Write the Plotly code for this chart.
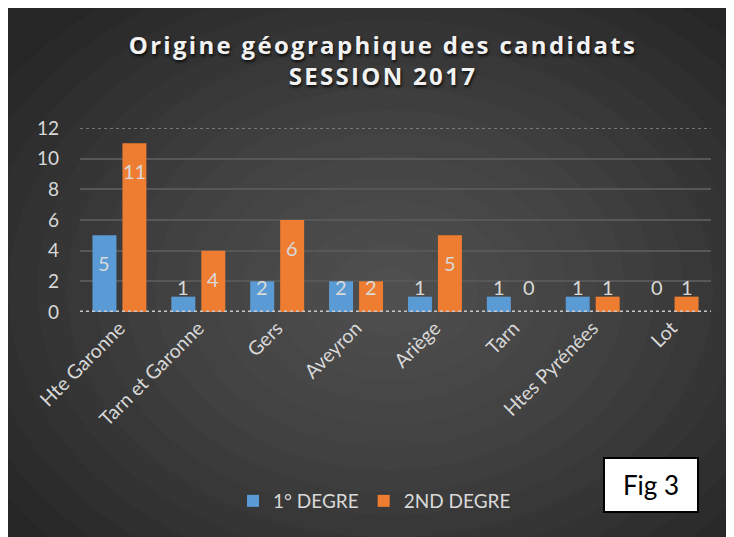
import plotly.graph_objects as go

categories = ["Hte Garonne", "Tarn et Garonne", "Gers", "Aveyron", "Ariège", "Tarn", "Htes Pyrénées", "Lot"]
degre1 = [5, 1, 2, 2, 1, 1, 1, 0]
degre2 = [11, 4, 6, 2, 5, 0, 1, 1]
series_names = ["1° DEGRE", "2ND DEGRE"]
title_lines = ["Origine géographique des candidats", "SESSION 2017"]
fig_label = "Fig 3"

BLUE = "#5b9bd5"
ORANGE = "#ee7d31"
TXT = "#d9d9d9"
FONT = "Lato"

fig = go.Figure()
fig.add_trace(go.Bar(x=categories, y=degre1, name=series_names[0], marker=dict(color=BLUE, line=dict(width=0))))
fig.add_trace(go.Bar(x=categories, y=degre2, name=series_names[1], marker=dict(color=ORANGE, line=dict(width=0))))

# page offset of the figure (body margin)
O = 8
W, H = 734 - O, 537 - O
L, R, T, B = 80 - O, 23, 128 - O, 225
pw, ph = W - L - R, H - T - B

def px2x(px):
    return (px - O - L) / pw

def py2y(py):
    return (H - B - (py - O)) / ph

shapes = []
cx, cy = 390, 290
n = 16
for i in range(n):
    f = 1 - i / n
    rx, ry = 470 * f, 360 * f
    shapes.append(dict(type="circle", xref="paper", yref="paper",
                       x0=px2x(cx - rx), x1=px2x(cx + rx), y0=py2y(cy + ry), y1=py2y(cy - ry),
                       fillcolor="rgba(255,255,255,0.017)", line=dict(width=0), layer="below"))
# top gridline (dotted) and zero line (textured)
shapes.append(dict(type="line", xref="paper", yref="y", x0=0, x1=1, y0=12, y1=12,
                   line=dict(color="#8c8c8c", width=1.5, dash="dot"), layer="below"))
shapes.append(dict(type="line", xref="paper", yref="y", x0=0, x1=1, y0=0, y1=0,
                   line=dict(color="#c8c8c8", width=3, dash="dot"), layer="above"))

annotations = []
off = 0.19
for vals, sgn in ((degre1, -1), (degre2, 1)):
    for i, v in enumerate(vals):
        ylab = max(v - 1.83, 1.63)
        annotations.append(dict(x=i + sgn * off, y=ylab, xref="x", yref="y", text=str(v),
                                showarrow=False, font=dict(family=FONT, size=20, color=TXT),
                                xanchor="center", yanchor="middle"))
annotations.append(dict(x=px2x(651), y=py2y(484.5), xref="paper", yref="paper", text=fig_label,
                        showarrow=False, font=dict(family=FONT, size=26, color="black"),
                        bgcolor="white", bordercolor="black", borderwidth=2,
                        width=90, height=50, xanchor="center", yanchor="middle"))

title_text = "<br>".join('<span style="letter-spacing:2.3px">%s</span>' % t for t in title_lines)

fig.update_layout(
    width=W, height=H,
    margin=dict(l=L, r=R, t=T, b=B, pad=0),
    paper_bgcolor="#262626", plot_bgcolor="rgba(0,0,0,0)",
    title=dict(text=title_text, x=(383 - O) / W, xanchor="center", y=1 - (54 - O) / H, yanchor="top",
               font=dict(family="Open Sans", size=24, color="#f2f2f2", weight="bold",
                         shadow="1px 2px 3px rgba(0,0,0,0.8)")),
    barmode="group", bargap=0.24, bargroupgap=0.2,
    showlegend=True,
    legend=dict(orientation="h", x=px2x(233), xanchor="left", y=py2y(501), yanchor="middle",
                font=dict(family=FONT, size=19, color=TXT), bgcolor="rgba(0,0,0,0)",
                itemwidth=30, traceorder="normal"),
    shapes=shapes, annotations=annotations,
    font=dict(family=FONT, color=TXT),
)
fig.update_xaxes(tickangle=-45, tickfont=dict(family=FONT, size=19.5, color=TXT), showgrid=False,
                 showline=False, ticks="")
fig.update_yaxes(range=[0, 12], dtick=2, tickfont=dict(family=FONT, size=19, color=TXT),
                 showgrid=True, gridcolor="#575757", gridwidth=2, zeroline=False, showline=False,
                 ticks="", ticklabelstandoff=20)

fig.write_html("out.html")
